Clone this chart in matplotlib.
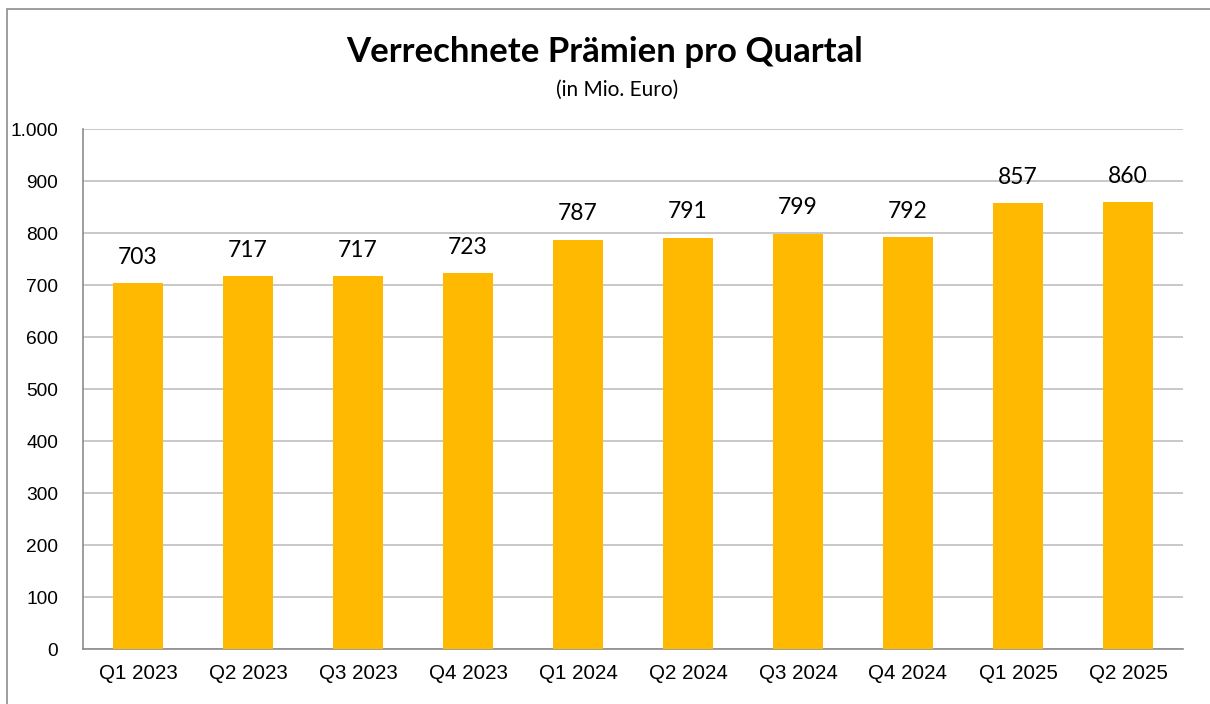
import matplotlib.pyplot as plt
from matplotlib.patches import Rectangle
from matplotlib.ticker import FuncFormatter

quarters = ['Q1 2023', 'Q2 2023', 'Q3 2023', 'Q4 2023', 'Q1 2024',
            'Q2 2024', 'Q3 2024', 'Q4 2024', 'Q1 2025', 'Q2 2025']
praemien = [703, 717, 717, 723, 787, 791, 799, 792, 857, 860]
y_ticks = list(range(0, 1001, 100))

fig = plt.figure(figsize=(12.1, 7.04), dpi=100)
ax = fig.add_axes([83 / 1210, 1 - 649 / 704, 1100 / 1210, 520 / 704])

x = range(len(quarters))
bars = ax.bar(x, praemien, width=0.45, color='#FFB900', zorder=3)
ax.bar_label(bars, labels=[str(v) for v in praemien], padding=11,
             fontsize=16.5, family='Lato', color='black')

ax.set_xlim(-0.5, len(quarters) - 0.5)
ax.set_ylim(0, 1000)
ax.set_yticks(y_ticks)
ax.yaxis.set_major_formatter(FuncFormatter(lambda v, p: f'{int(v):,}'.replace(',', '.')))
ax.set_xticks(list(x))
ax.set_xticklabels(quarters)
ax.tick_params(axis='both', length=0)
ax.tick_params(axis='x', pad=11, labelsize=14.8)
ax.tick_params(axis='y', pad=18, labelsize=13.8)
for lbl in ax.get_xticklabels() + ax.get_yticklabels():
    lbl.set_family('Liberation Sans')

ax.grid(axis='y', color='#BFBFBF', linewidth=1.2, zorder=0)
for side in ['top', 'right']:
    ax.spines[side].set_visible(False)
for side in ['left', 'bottom']:
    ax.spines[side].set_color('#8C8C8C')
    ax.spines[side].set_linewidth(1.2)

fig.text(0.5, 1 - 52 / 704, 'Verrechnete Prämien pro Quartal', ha='center', va='center',
         fontsize=25, fontweight='bold', family='Lato')
fig.text(0.51, 1 - 90 / 704, '(in Mio. Euro)', ha='center', va='center',
         fontsize=15, family='Lato')

fig.patches.append(Rectangle((7 / 1210, -0.1), 1.2, 1 - 9 / 704 + 0.1, transform=fig.transFigure,
                             fill=False, edgecolor='#8C8C8C', linewidth=1.2))

fig.savefig('out.png', dpi=100)
